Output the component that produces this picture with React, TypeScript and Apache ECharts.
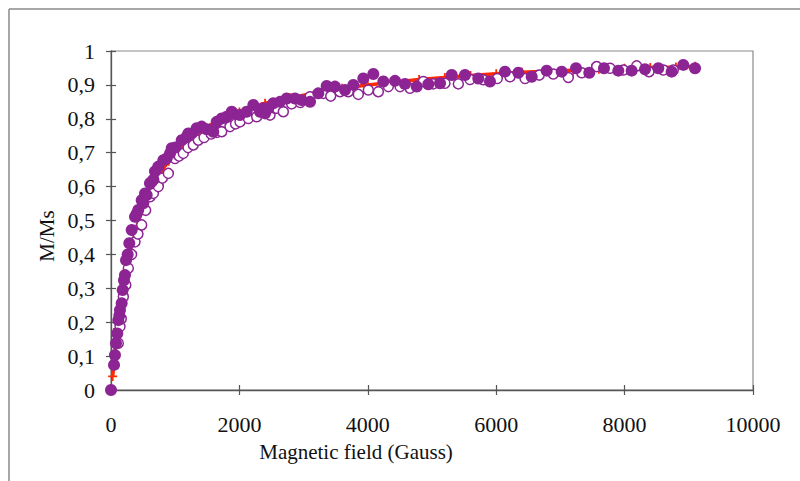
import React, { useEffect, useRef } from "react";
import * as echarts from "echarts";

const filledPoints: number[][] = [
  [0, 0], [47, 0.074], [62, 0.103], [78, 0.138], [98, 0.167], [114, 0.206], [130, 0.22], [140, 0.236],
  [166, 0.256], [182, 0.295], [202, 0.324], [218, 0.339], [234, 0.383], [260, 0.4], [285, 0.433],
  [322, 0.472], [374, 0.511], [400, 0.52], [425, 0.531], [478, 0.56], [503, 0.551], [530, 0.58],
  [556, 0.575], [607, 0.61], [634, 0.614], [660, 0.62], [685, 0.645], [737, 0.659], [815, 0.678],
  [867, 0.683], [919, 0.698], [945, 0.713], [1000, 0.715], [1101, 0.737], [1179, 0.747], [1204, 0.757],
  [1257, 0.757], [1335, 0.772], [1412, 0.777], [1490, 0.769], [1568, 0.767], [1593, 0.762], [1646, 0.791],
  [1724, 0.801], [1802, 0.806], [1880, 0.821], [1905, 0.816], [2009, 0.811], [2113, 0.821], [2217, 0.841],
  [2321, 0.821], [2373, 0.831], [2399, 0.816], [2451, 0.831], [2528, 0.846], [2632, 0.85], [2736, 0.86],
  [2866, 0.86], [2970, 0.855], [3100, 0.85], [3229, 0.875], [3359, 0.897], [3489, 0.895], [3645, 0.885],
  [3774, 0.9], [3930, 0.919], [4086, 0.932], [4242, 0.91], [4424, 0.912], [4579, 0.903], [4762, 0.895],
  [4943, 0.902], [5125, 0.905], [5307, 0.929], [5514, 0.929], [5721, 0.919], [5903, 0.91], [6137, 0.939],
  [6345, 0.936], [6553, 0.924], [6786, 0.942], [7020, 0.939], [7243, 0.949], [7450, 0.936], [7679, 0.949],
  [7902, 0.942], [8110, 0.942], [8318, 0.946], [8525, 0.949], [8733, 0.939], [8914, 0.959], [9097, 0.949],
];

const openPoints: number[][] = [
  [114, 0.138], [140, 0.187], [160, 0.21], [192, 0.275], [230, 0.31], [270, 0.359], [320, 0.4],
  [374, 0.437], [420, 0.46], [478, 0.487], [540, 0.53], [607, 0.57], [660, 0.58], [737, 0.6],
  [800, 0.625], [893, 0.639], [997, 0.683], [1060, 0.69], [1126, 0.698], [1200, 0.715], [1282, 0.723],
  [1360, 0.737], [1450, 0.745], [1560, 0.755], [1650, 0.76], [1724, 0.762], [1854, 0.777], [1940, 0.785],
  [2009, 0.791], [2139, 0.801], [2269, 0.806], [2477, 0.811], [2555, 0.831], [2581, 0.831], [2684, 0.821],
  [2814, 0.844], [2950, 0.848], [3100, 0.865], [3307, 0.875], [3422, 0.867], [3567, 0.88], [3696, 0.88],
  [3852, 0.872], [4008, 0.885], [4164, 0.88], [4320, 0.895], [4502, 0.895], [4657, 0.89], [4865, 0.91],
  [5020, 0.903], [5202, 0.905], [5410, 0.903], [5592, 0.916], [5799, 0.915], [6017, 0.919], [6215, 0.924],
  [6449, 0.919], [6671, 0.929], [6889, 0.932], [7123, 0.922], [7332, 0.936], [7565, 0.954], [7773, 0.949],
  [7980, 0.944], [8188, 0.956], [8380, 0.939], [8603, 0.944], [8759, 0.944],
];

const fitCurve: number[][] = [
  [26, 0.04], [100, 0.18], [200, 0.31], [300, 0.41], [400, 0.48], [500, 0.54], [600, 0.58], [700, 0.62],
  [800, 0.65], [900, 0.675], [1000, 0.7], [1200, 0.735], [1400, 0.765], [1600, 0.785], [1800, 0.805],
  [2000, 0.82], [2400, 0.846], [2800, 0.862], [3200, 0.877], [3600, 0.89], [4000, 0.9], [4400, 0.908],
  [4800, 0.916], [5200, 0.922], [5600, 0.928], [6000, 0.933], [6400, 0.937], [6800, 0.94], [7200, 0.943],
  [7600, 0.946], [8000, 0.949], [8400, 0.951], [8800, 0.953], [9100, 0.955],
];

const xTicks = { min: 0, max: 10000, interval: 2000 };
const yTicks = { min: 0, max: 1, interval: 0.1 };
const xTitle = "Magnetic field (Gauss)";
const yTitle = "M/Ms";

const FONT = "'Liberation Serif', 'DejaVu Serif', serif";
const PURPLE = "#8c2494";
const RED = "#ff2a00";
const PLUS = "path://M4,0H6V4H10V6H6V10H4V6H0V4H4Z";

const fmtX = (v: number) => String(Math.round(v));
const fmtY = (v: number) => {
  const r = Math.round(v * 10) / 10;
  if (r === 0) return "0";
  if (r === 1) return "1";
  return r.toFixed(1).replace(".", ",");
};

export default function App() {
  const ref = useRef<HTMLDivElement>(null);
  useEffect(() => {
    document.body.style.margin = "0";
    const chart = echarts.init(ref.current!, null, { renderer: "svg" });
    const axisLine = { show: true, lineStyle: { color: "#555", width: 1.3 } };
    chart.setOption({
      animation: false,
      backgroundColor: "#fff",
      grid: {
        left: 111, right: 47, top: 51, bottom: 91, show: true,
        borderColor: "#8a8a8a", borderWidth: 1.2, backgroundColor: "transparent",
      },
      xAxis: [
        {
          type: "value", position: "bottom", ...xTicks,
          axisLine, splitLine: { show: false },
          axisTick: { show: true, inside: false, length: 5, lineStyle: { color: "#555", width: 1.2 } },
          axisLabel: { margin: 23, fontFamily: FONT, fontSize: 22, color: "#111", formatter: fmtX },
        },
        {
          type: "value", position: "bottom", ...xTicks,
          axisLine: { show: false }, splitLine: { show: false },
          axisTick: { show: true, inside: true, length: 5, lineStyle: { color: "#555", width: 1.2 } },
          axisLabel: { show: false },
        },
      ],
      yAxis: [
        {
          type: "value", position: "left", ...yTicks,
          axisLine, splitLine: { show: false },
          axisTick: { show: true, inside: false, length: 5, lineStyle: { color: "#555", width: 1.2 } },
          axisLabel: { margin: 16, fontFamily: FONT, fontSize: 22, color: "#111", formatter: fmtY },
        },
        {
          type: "value", position: "left", ...yTicks,
          axisLine: { show: false }, splitLine: { show: false },
          axisTick: { show: true, inside: true, length: 5, lineStyle: { color: "#555", width: 1.2 } },
          axisLabel: { show: false },
        },
      ],
      graphic: [
        { type: "line", shape: { x1: 9, y1: 9, x2: 9, y2: 481 }, style: { stroke: "#8a8a8a", lineWidth: 1.5 } },
        { type: "line", shape: { x1: 9, y1: 9, x2: 800, y2: 9 }, style: { stroke: "#8a8a8a", lineWidth: 1.5 } },
        {
          type: "text", x: 356, y: 452,
          style: { text: xTitle, font: `21px ${FONT}`, fill: "#111", align: "center", verticalAlign: "middle" },
        },
        {
          type: "text", x: 47, y: 236, rotation: Math.PI / 2,
          style: { text: yTitle, font: `21px ${FONT}`, fill: "#111", align: "center", verticalAlign: "middle" },
        },
      ],
      series: [
        {
          type: "line", data: fitCurve, xAxisIndex: 0, yAxisIndex: 0,
          lineStyle: { color: RED, width: 3.5 }, itemStyle: { color: RED },
          symbol: PLUS, symbolSize: 9, showSymbol: true, z: 2,
        },
        {
          type: "scatter", data: openPoints, xAxisIndex: 0, yAxisIndex: 0,
          symbol: "circle", symbolSize: 10,
          itemStyle: { color: "#fff", borderColor: PURPLE, borderWidth: 1.5, opacity: 1 }, z: 3,
        },
        {
          type: "scatter", data: filledPoints, xAxisIndex: 0, yAxisIndex: 0,
          symbol: "circle", symbolSize: 12,
          itemStyle: { color: PURPLE, opacity: 1 }, z: 4,
        },
      ],
    });
    return () => chart.dispose();
  }, []);
  return <div ref={ref} style={{ width: 800, height: 481 }} />;
}
